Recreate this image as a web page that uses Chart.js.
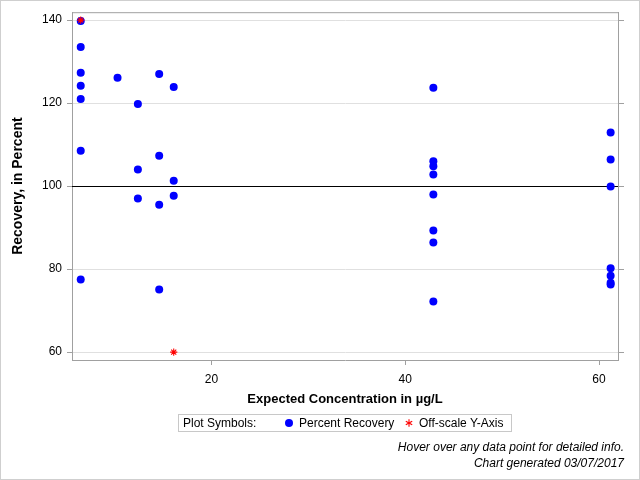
<!DOCTYPE html>
<html>
<head>
<meta charset="utf-8">
<script src="https://cdn.jsdelivr.net/npm/chart.js@4.4.0/dist/chart.umd.min.js"></script>
<style>
html,body{margin:0;padding:0;background:#fff;}
#wrap{position:relative;width:640px;height:480px;overflow:hidden;font-family:"Liberation Sans",Arial,sans-serif;color:#000;}
#frame{position:absolute;left:0;top:0;width:638px;height:478px;border:1px solid #cfcfcf;pointer-events:none;}
#legend{position:absolute;left:178px;top:414px;width:332px;height:16px;border:1px solid #c8c8c8;font-size:12px;line-height:16px;}
#legend span{position:absolute;top:0;white-space:nowrap;}
#legend .dot{position:absolute;top:4px;width:8px;height:8px;border-radius:50%;background:#0000ff;}
#legend svg{position:absolute;top:4px;}
.note{position:absolute;right:16px;font-size:12px;font-style:italic;line-height:14px;white-space:nowrap;}
</style>
</head>
<body>
<div id="wrap">
  <canvas id="c" width="640" height="480"></canvas>
  <div id="legend">
    <span style="left:4px">Plot Symbols:</span>
    <div class="dot" style="left:106px"></div>
    <span style="left:120px">Percent Recovery</span>
    <svg width="8" height="8" style="left:226px" viewBox="0 0 8 8">
      <g stroke="#ff0000" stroke-width="1.1">
        <line x1="4" y1="0.3" x2="4" y2="7.7"/>
        <line x1="0.8" y1="2.15" x2="7.2" y2="5.85"/>
        <line x1="0.8" y1="5.85" x2="7.2" y2="2.15"/>
      </g>
    </svg>
    <span style="left:240px">Off-scale Y-Axis</span>
  </div>
  <div class="note" style="top:440px">Hover over any data point for detailed info.</div>
  <div class="note" style="top:456px">Chart generated 03/07/2017</div>
  <div id="frame"></div>
</div>
<script>
// ---- data ----
const X_TICKS = [20, 40, 60];
const Y_TICKS = [60, 80, 100, 120, 140];
const REFERENCE_Y = 100;

// Expected concentration (µg/L) of each sample
const CONCENTRATION = [
  6.5, 6.5, 6.5, 6.5, 6.5, 6.5, 6.5,
  10.3,
  12.4, 12.4, 12.4,
  14.6, 14.6, 14.6, 14.6,
  16.1, 16.1, 16.1,
  42.9, 42.9, 42.9, 42.9, 42.9, 42.9, 42.9, 42.9,
  61.2, 61.2, 61.2, 61.2, 61.2, 61.2, 61.2
];
// Percent recovery of each sample
const RECOVERY = [
  139.8, 133.5, 127.3, 124.2, 121.0, 108.5, 77.5,
  126.1,
  119.8, 104.0, 97.0,
  127.0, 107.3, 95.5, 75.1,
  123.9, 101.3, 97.7,
  123.7, 106.0, 104.8, 102.8, 98.0, 89.3, 86.4, 72.2,
  112.9, 106.4, 99.9, 80.2, 78.4, 76.7, 76.3
];
// Off-scale samples, plotted at the axis limit
const OFFSCALE_X = [6.5, 16.1];
const OFFSCALE_Y = [140, 60];

const FONT = '"Liberation Sans", Arial, sans-serif';
const Y_MIN = 58.1, Y_MAX = 141.9;
const setTicks = list => scale => { scale.ticks = list.map(v => ({value: v})); };

const refLine = {
  id: 'refLine',
  beforeDatasetsDraw(chart) {
    const {ctx, chartArea: a, scales} = chart;
    ctx.save();
    // plot frame top edge
    ctx.strokeStyle = '#a0a0a0';
    ctx.lineWidth = 1;
    ctx.beginPath();
    ctx.moveTo(a.left, a.top + 0.5);
    ctx.lineTo(a.right, a.top + 0.5);
    ctx.stroke();
    // reference line
    const y = Math.round(scales.y.getPixelForValue(REFERENCE_Y)) + 0.5;
    ctx.strokeStyle = '#000';
    ctx.beginPath();
    ctx.moveTo(a.left, y);
    ctx.lineTo(a.right, y);
    ctx.stroke();
    ctx.restore();
  }
};

new Chart(document.getElementById('c'), {
  type: 'scatter',
  data: {
    datasets: [
      {
        label: 'Percent Recovery',
        data: CONCENTRATION.map((x, i) => ({x, y: RECOVERY[i]})),
        backgroundColor: '#0000ff',
        borderColor: '#0000ff',
        borderWidth: 0,
        pointRadius: 4,
        pointHoverRadius: 5,
        order: 2
      },
      {
        label: 'Off-scale Y-Axis',
        data: OFFSCALE_X.map((x, i) => ({x, y: OFFSCALE_Y[i]})),
        pointStyle: 'star',
        borderColor: '#ff0000',
        backgroundColor: '#ff0000',
        borderWidth: 1.1,
        pointRadius: 3.6,
        pointHoverRadius: 5,
        order: 1
      }
    ]
  },
  options: {
    responsive: false,
    animation: false,
    layout: {padding: {top: 12, left: 0, right: 0, bottom: 0}},
    plugins: {legend: {display: false}, tooltip: {enabled: true}},
    scales: {
      x: {
        type: 'linear',
        position: 'bottom',
        min: 5.6,
        max: 61.96,
        afterBuildTicks: setTicks(X_TICKS),
        afterFit: s => { s.height = 120; },
        grid: {drawOnChartArea: false, tickLength: 5, tickColor: '#a0a0a0'},
        border: {color: '#a0a0a0'},
        ticks: {font: {family: FONT, size: 12}, color: '#000', padding: 7, maxRotation: 0},
        title: {display: true, text: 'Expected Concentration in µg/L', color: '#000',
                font: {family: FONT, size: 13, weight: 'bold'}, padding: {top: 0, bottom: 73}}
      },
      y: {
        type: 'linear',
        position: 'left',
        min: Y_MIN,
        max: Y_MAX,
        afterBuildTicks: setTicks(Y_TICKS),
        afterFit: s => { s.width = 72; },
        grid: {color: '#e0e0e0', tickColor: '#a0a0a0', tickLength: 5},
        border: {color: '#a0a0a0'},
        ticks: {font: {family: FONT, size: 12}, color: '#000', padding: 5},
        title: {display: true, text: 'Recovery, in Percent', color: '#000',
                font: {family: FONT, size: 14, weight: 'bold'}, padding: {top: 10, bottom: 0}}
      },
      y2: {
        type: 'linear',
        position: 'right',
        min: Y_MIN,
        max: Y_MAX,
        afterBuildTicks: setTicks(Y_TICKS),
        afterFit: s => { s.width = 22; },
        grid: {drawOnChartArea: false, tickColor: '#a0a0a0', tickLength: 6},
        border: {color: '#a0a0a0'},
        ticks: {display: true, color: 'rgba(0,0,0,0)', font: {family: FONT, size: 1}}
      }
    }
  },
  plugins: [refLine]
});
</script>
</body>
</html>
